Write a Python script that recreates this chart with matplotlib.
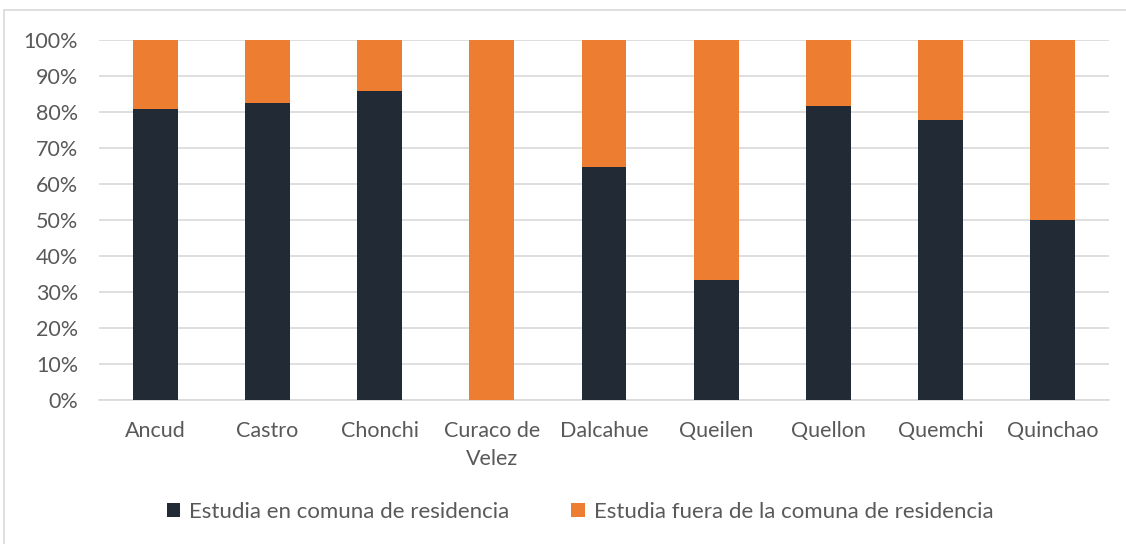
import matplotlib.pyplot as plt
import matplotlib.patches as mpatches
from matplotlib.ticker import PercentFormatter

comunas = ["Ancud", "Castro", "Chonchi", "Curaco de\nVelez", "Dalcahue",
           "Queilen", "Quellon", "Quemchi", "Quinchao"]
en_comuna = [80.8, 82.5, 85.7, 0.0, 64.8, 33.3, 81.8, 77.8, 50.0]
fuera_comuna = [100 - v for v in en_comuna]

dark = "#222A35"
orange = "#ED7D31"
txt = "#595959"

plt.rcParams["font.family"] = ["Lato", "DejaVu Sans"]

fig = plt.figure(figsize=(11.26, 5.44), dpi=100)
ax = fig.add_axes([99 / 1126, 1 - 400 / 544, (1109 - 99) / 1126, 360 / 544])

x = range(len(comunas))
ax.bar(x, en_comuna, width=0.40, color=dark, zorder=3,
       label="Estudia en comuna de residencia")
ax.bar(x, fuera_comuna, width=0.40, bottom=en_comuna, color=orange, zorder=3,
       label="Estudia fuera de la comuna de residencia")

ax.set_ylim(0, 100)
ax.set_xlim(-0.5, len(comunas) - 0.5)
ax.set_yticks(range(0, 101, 10))
ax.yaxis.set_major_formatter(PercentFormatter(decimals=0))
ax.set_xticks(list(x))
ax.set_xticklabels(comunas, linespacing=1.5)
ax.grid(axis="y", color="#D9D9D9", linewidth=1.2, zorder=0)
ax.tick_params(axis="both", length=0, labelsize=15.5, colors=txt)
ax.tick_params(axis="y", pad=15)
ax.tick_params(axis="x", pad=15)
for s in ["top", "right", "left"]:
    ax.spines[s].set_visible(False)
ax.spines["bottom"].set_color("#D9D9D9")
ax.spines["bottom"].set_linewidth(1.2)

leg = fig.legend(loc="center", bbox_to_anchor=(580 / 1126, 1 - 512 / 544),
                 ncol=2, frameon=False, fontsize=16, handlelength=0.6,
                 handleheight=0.6, handletextpad=0.4, columnspacing=2.8)
for t in leg.get_texts():
    t.set_color(txt)

# outer chart border
fig.patches.append(mpatches.Rectangle((4 / 1126, -0.05), 1.1, 1 - 10 / 544 + 0.05,
                                      transform=fig.transFigure, fill=False,
                                      edgecolor="#D9D9D9", linewidth=1.2))

fig.savefig("out.png", dpi=100)
